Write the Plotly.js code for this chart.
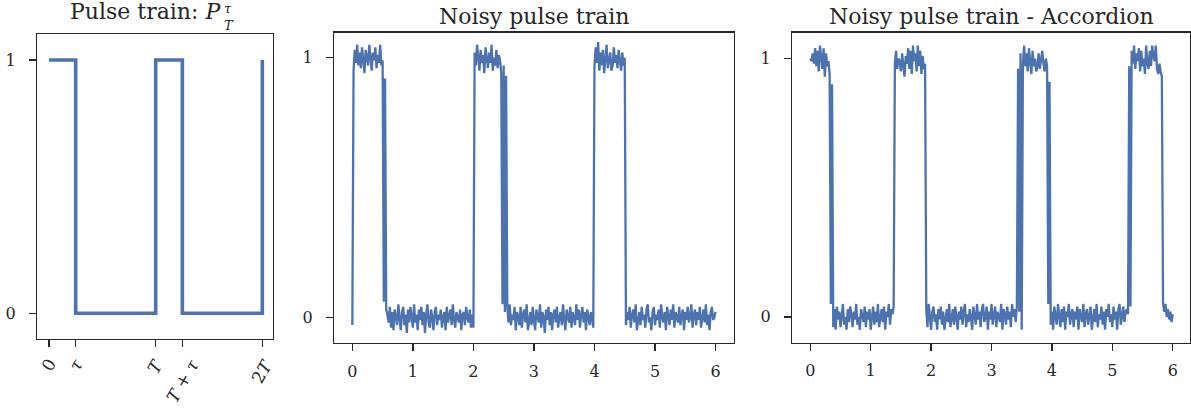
<!DOCTYPE html>
<html>
<head>
<meta charset="utf-8">
<script src="https://cdn.plot.ly/plotly-3.0.1.min.js"></script>
<style>html,body{margin:0;padding:0;background:#fff}#chart{width:1191px;height:412px}</style>
</head>
<body>
<div id="chart"></div>
<script>
// ---------- data ----------
// Panel 1: ideal pulse train (in units of T)
const pulseX = [0, 0.25, 0.25, 1, 1, 1.25, 1.25, 2, 2];
const pulseY = [1, 1, 0, 0, 1, 1, 0, 0, 1];
const pulseTickVals = [0, 0.25, 1, 1.25, 2];
const pulseTickText = ["0", "<i>τ</i>", "<i>T</i>", "<i>T</i> + <i>τ</i>", "2<i>T</i>"];

// Panels 2 and 3: sampled every 0.02 time units from 0 to 6
const sampleStep = 0.02;
const noisyY = [
 -0.03,
 0.95,1.03,0.98,1.05,0.97,1.02,0.96,1.04,0.99,0.94,1.03,1.00,0.97,1.05,0.98,0.95,1.02,0.99,1.04,0.96,1.01,0.98,1.05,0.97,
 0.99,0.06,0.92,0.03,
 0.01,-0.02,0.04,-0.04,0.02,-0.05,0.03,0.00,-0.03,0.05,-0.01,-0.05,0.02,0.04,-0.03,0.01,-0.06,0.03,-0.02,0.04,
 0.00,-0.04,0.05,-0.02,0.01,-0.05,0.03,-0.01,0.04,-0.03,0.02,-0.06,0.01,0.05,-0.02,-0.04,0.03,0.00,-0.05,0.02,
 0.04,-0.03,0.01,-0.01,0.03,-0.04,0.00,0.02,-0.05,0.04,-0.02,0.01,0.03,-0.03,0.05,-0.01,-0.04,0.02,0.00,-0.02,
 0.03,-0.05,0.01,0.02,-0.03,0.04,0.00,-0.02,0.03,-0.04,0.01,
 -0.04,
 1.02,0.97,1.05,0.99,0.95,1.03,0.98,1.01,0.94,1.04,0.99,0.96,1.02,0.98,1.05,0.95,1.00,0.97,1.03,0.96,1.01,0.99,0.94,
 0.05,0.97,0.02,0.93,
 0.04,-0.02,0.05,-0.03,0.01,-0.01,0.04,-0.05,0.02,0.00,-0.03,0.04,-0.04,0.01,0.03,-0.02,0.05,-0.05,0.00,0.02,
 -0.03,0.04,-0.01,-0.05,0.03,0.01,-0.02,0.05,-0.04,0.02,0.00,-0.06,0.03,-0.01,0.04,-0.03,0.02,-0.05,0.01,0.03,
 -0.02,0.04,-0.04,0.00,0.02,-0.03,0.05,-0.01,-0.05,0.03,0.01,-0.02,0.04,-0.04,0.02,0.00,-0.03,0.05,-0.01,0.03,
 -0.04,0.01,0.04,-0.02,0.02,-0.05,0.03,0.00,-0.03,0.02,-0.01,-0.04,
 0.97,
 1.04,0.98,1.06,0.95,1.02,0.97,1.03,0.94,1.00,1.05,0.96,0.99,1.02,0.95,0.97,1.04,0.98,1.01,0.96,1.03,0.99,0.95,1.02,0.97,1.00,
 -0.03,0.02,-0.01,0.04,-0.04,0.01,0.03,-0.02,0.05,-0.05,0.00,0.02,-0.03,0.04,-0.01,0.01,-0.04,0.03,0.05,-0.02,
 0.00,-0.05,0.02,0.04,-0.03,0.01,-0.01,0.03,-0.04,0.05,0.00,-0.02,0.02,-0.05,0.04,0.01,-0.03,0.03,-0.01,0.05,
 -0.04,0.02,0.00,-0.02,0.04,-0.03,0.01,0.03,-0.05,0.02,-0.01,0.04,-0.02,0.00,0.05,-0.04,0.01,0.03,-0.03,0.02,
 -0.01,0.04,-0.04,0.00,0.03,-0.02,0.05,-0.03,0.01,-0.05,0.02,0.04,-0.01,0.00,0.02
];
const accordionY = [
 1.00,0.99,1.02,0.98,1.04,0.97,1.03,0.95,1.05,1.01,0.96,1.04,0.93,1.02,0.97,0.99,0.94,
 0.05,0.90,-0.04,
 0.03,-0.05,0.04,-0.01,0.02,-0.04,0.01,0.05,-0.03,0.00,
 -0.05,0.03,-0.02,0.04,0.01,-0.04,0.02,-0.01,0.05,-0.03,
 0.00,-0.05,0.03,0.01,-0.02,0.04,-0.04,0.02,-0.01,0.03,
 -0.05,0.00,0.04,-0.03,0.02,-0.02,0.05,-0.04,0.01,0.03,
 -0.02,0.04,-0.05,0.02,0.00,0.05,-0.03,0.03,0.01,0.04,
 0.98,1.03,0.96,1.00,0.99,0.95,1.02,0.97,0.93,1.01,0.98,1.04,0.96,1.03,0.94,1.05,0.99,1.02,0.95,1.05,0.97,1.03,0.94,1.01,0.96,0.98,
 0.03,-0.04,0.05,0.00,-0.05,0.02,0.04,-0.02,0.01,-0.05,
 0.03,-0.01,0.04,-0.03,0.02,-0.05,0.00,0.03,-0.02,0.05,
 -0.04,0.01,0.03,-0.03,0.04,0.00,-0.05,0.02,-0.01,0.04,
 -0.03,0.02,0.05,-0.04,0.01,-0.02,0.03,0.00,-0.05,0.04,
 0.01,-0.03,0.05,-0.01,0.02,-0.04,0.03,0.05,-0.02,0.00,
 0.04,-0.05,0.02,-0.01,0.05,-0.03,0.01,0.04,-0.04,0.02,
 0.00,-0.02,0.05,-0.05,0.03,0.01,-0.03,0.04,-0.01,0.02,
 -0.04,0.05,0.00,0.03,-0.02,0.04,
 0.96,0.02,1.02,-0.05,0.98,
 1.05,0.97,1.02,0.95,1.04,0.99,0.94,1.03,0.97,1.00,0.95,0.97,1.02,0.96,0.99,1.03,0.98,0.95,1.00,
 0.97,0.05,0.91,-0.03,
 0.02,-0.05,0.04,0.00,-0.03,0.05,0.01,-0.04,0.03,-0.02,
 0.04,-0.05,0.02,0.00,0.05,-0.03,0.01,0.03,-0.04,0.02,
 -0.01,0.04,-0.05,0.03,0.00,-0.02,0.05,-0.04,0.01,0.03,
 -0.03,0.02,0.04,-0.05,0.00,0.03,-0.02,0.05,-0.04,0.01,
 -0.01,0.04,-0.03,0.02,-0.05,0.03,0.00,0.05,-0.02,0.01,
 -0.04,0.04,-0.01,0.02,-0.05,0.03,0.05,-0.03,0.00,0.04,
 -0.02,0.02,0.03,0.01,
 0.97,0.04,1.03,
 0.98,1.05,0.96,1.02,0.99,1.04,0.95,1.03,0.97,1.00,0.94,1.05,0.98,0.96,1.03,0.97,1.05,1.01,0.99,1.05,0.96,0.94,0.98,0.95,
 0.93,
 0.05,
 0.02,0.05,0.00,0.03,-0.01,0.02,-0.02,0.01
];
const timeTicks = [0, 1, 2, 3, 4, 5, 6];
const yTicks = [0, 1];
const titles = ["Noisy pulse train", "Noisy pulse train - Accordion"];

// ---------- chart ----------
const W = 1191, H = 412;
const px = v => v / W;
const py = v => 1 - v / H;
const ink = '#262626';
const blue = '#4C72B0';
const serif = 'DejaVu Serif, serif';

const noisyX = noisyY.map((_, i) => +(i * sampleStep).toFixed(4));
const accX = accordionY.map((_, i) => +(i * sampleStep).toFixed(4));

const traces = [
  {x: pulseX, y: pulseY, xaxis: 'x', yaxis: 'y', mode: 'lines', line: {color: blue, width: 3.6}, hoverinfo: 'skip'},
  {x: noisyX, y: noisyY, xaxis: 'x2', yaxis: 'y2', mode: 'lines', line: {color: blue, width: 2.3}, hoverinfo: 'skip'},
  {x: accX, y: accordionY, xaxis: 'x3', yaxis: 'y3', mode: 'lines', line: {color: blue, width: 2.3}, hoverinfo: 'skip'}
];

function axisBase(extra) {
  return Object.assign({
    showline: true, linecolor: ink, linewidth: 1.3, mirror: true,
    ticks: 'outside', ticklen: 7, tickwidth: 1.3, tickcolor: ink,
    showgrid: false, zeroline: false, fixedrange: true,
    tickfont: {family: serif, size: 16, color: ink}
  }, extra);
}

const layout = {
  width: W, height: H,
  margin: {l: 0, r: 0, t: 0, b: 0, pad: 0},
  paper_bgcolor: '#fff', plot_bgcolor: '#fff',
  showlegend: false,
  xaxis: axisBase({domain: [px(37.3), px(273)], range: [-0.11, 2.1], tickmode: 'array', tickvals: pulseTickVals, showticklabels: false, anchor: 'y'}),
  yaxis: axisBase({domain: [py(339), py(34)], range: [-0.102, 1.103], tickmode: 'array', tickvals: yTicks, ticklabelstandoff: 10, anchor: 'x'}),
  xaxis2: axisBase({domain: [px(334.3), px(733.7)], range: [-0.298, 6.3], tickmode: 'array', tickvals: timeTicks, ticklabelstandoff: 6, anchor: 'y2'}),
  yaxis2: axisBase({domain: [py(343), py(32.5)], range: [-0.099, 1.097], tickmode: 'array', tickvals: yTicks, ticklabelstandoff: 10, anchor: 'x2'}),
  xaxis3: axisBase({domain: [px(792.3), px(1190)], range: [-0.298, 6.286], tickmode: 'array', tickvals: timeTicks, ticklabelstandoff: 6, anchor: 'y3'}),
  yaxis3: axisBase({domain: [py(342.7), py(32.7)], range: [-0.1, 1.1], tickmode: 'array', tickvals: yTicks, ticklabelstandoff: 10, anchor: 'x3'}),
  annotations: []
};

const titleFont = {family: serif, size: 22, color: ink};
layout.annotations.push(
  {xref: 'paper', yref: 'paper', x: px(222), y: py(12), xanchor: 'right', yanchor: 'middle', borderpad: 0, showarrow: false, text: 'Pulse train: <i>P</i>', font: titleFont},
  {xref: 'paper', yref: 'paper', x: px(223), y: py(0), xanchor: 'left', yanchor: 'top', align: 'left', borderpad: 0, showarrow: false, text: '<i>τ</i><br><i>T</i>', font: {family: serif, size: 13, color: ink}},
  {xref: 'paper', yref: 'paper', x: px(534), y: py(17), xanchor: 'center', yanchor: 'middle', showarrow: false, text: titles[0], font: titleFont},
  {xref: 'paper', yref: 'paper', x: px(991), y: py(17), xanchor: 'center', yanchor: 'middle', showarrow: false, text: titles[1], font: titleFont}
);
pulseTickVals.forEach((v, i) => {
  layout.annotations.push({xref: 'x', yref: 'paper', x: v, y: py(353), xanchor: 'center', yanchor: 'top', showarrow: false, textangle: -60, text: pulseTickText[i], font: {family: serif, size: 17, color: ink}});
});

Plotly.newPlot('chart', traces, layout, {staticPlot: true, displayModeBar: false});
</script>
</body>
</html>
